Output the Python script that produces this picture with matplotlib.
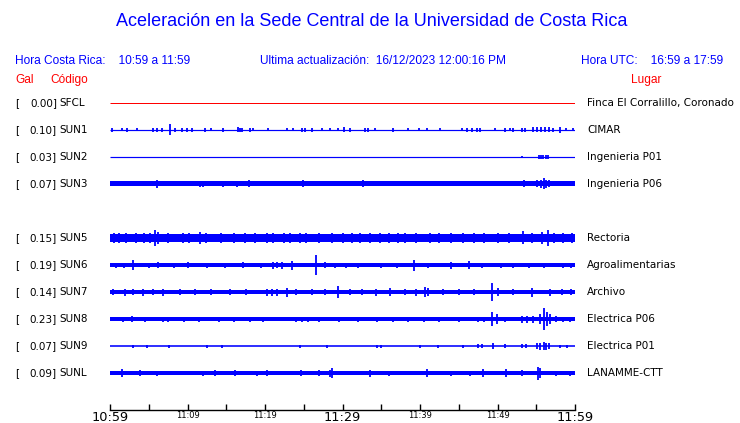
import matplotlib.pyplot as plt

BLUE = (0, 0, 1)
RED = (1, 0, 0)

# station rows (row index 4 is an empty slot)
codes = ['SFCL', 'SUN1', 'SUN2', 'SUN3', 'SUN5', 'SUN6', 'SUN7', 'SUN8', 'SUN9', 'SUNL']
rows = [0, 1, 2, 3, 5, 6, 7, 8, 9, 10]
gal = [0.00, 0.10, 0.03, 0.07, 0.15, 0.19, 0.14, 0.23, 0.07, 0.09]
places = ['Finca El Corralillo, Coronado', 'CIMAR', 'Ingenieria P01', 'Ingenieria P06',
          'Rectoria', 'Agroalimentarias', 'Archivo', 'Electrica P06', 'Electrica P01', 'LANAMME-CTT']

# base trace half-height (pixels) for each station
base = [0.5, 0.6, 0.6, 2.5, 3.8, 1.8, 2.3, 1.8, 0.8, 2.3]

# bursts/spikes: (minute after 10:59, half-height in pixels)
spikes = {
    'SFCL': [],
    'SUN1': [(0.3, 2), (1.5, 1.5), (2.2, 2), (3.5, 1.5), (5.5, 2), (6.1, 2), (6.7, 2), (7.7, 5.5),
             (8.4, 2), (9.3, 2), (9.9, 2), (10.6, 2), (12.3, 2), (13.0, 1.5), (14.6, 2), (16.5, 2.5),
             (16.8, 2), (17.0, 2), (18.1, 2), (18.5, 1.5), (20.4, 1.5), (22.8, 1.5), (23.6, 1.5),
             (24.8, 2), (25.2, 2), (26.1, 2), (27.4, 1.5), (28.4, 1.5), (29.4, 1.5), (30.2, 2.5),
             (31.0, 2), (32.9, 2), (33.3, 2), (34.2, 1.5), (36.5, 2), (38.5, 1.5), (39.9, 1.5),
             (40.9, 1.5), (42.6, 1.5), (45.4, 1.5), (46.1, 2), (46.7, 2), (47.4, 2), (47.7, 2),
             (49.7, 1.5), (51.0, 2), (51.6, 1.5), (52.0, 2), (53.2, 2), (53.5, 2), (54.6, 2.5),
             (55.1, 2.5), (55.6, 2.5), (56.1, 2.5), (56.6, 2.5), (57.2, 2), (58.1, 3), (58.8, 1.5),
             (59.7, 1.5)],
    'SUN2': [(53.2, 1), (55.3, 2), (55.6, 2), (55.9, 2), (56.2, 2), (56.5, 2)],
    'SUN3': [(6.1, 4), (11.6, 3), (12.0, 3), (14.6, 3), (16.4, 3), (17.9, 3.5), (24.9, 3.5),
             (32.6, 3.5), (53.4, 3.5), (55.1, 3.5), (55.6, 4), (56.0, 5.5), (56.3, 4), (56.6, 3.5)],
    'SUN5': [(0.5, 5), (1.2, 4.5), (2.0, 4.5), (3.3, 4.5), (4.4, 4.5), (5.2, 5), (5.8, 8), (6.2, 6),
             (7.5, 4.5), (9.4, 5), (10.2, 4.5), (11.6, 6), (12.4, 5), (14.3, 4.5), (16.0, 4.5),
             (17.4, 5), (18.7, 5), (20.2, 4.5), (21.0, 4.5), (22.5, 5), (23.2, 5), (24.5, 5),
             (25.3, 4.5), (27.0, 4.5), (28.6, 4.5), (30.0, 4.5), (31.2, 5), (32.3, 5.5), (33.6, 4.5),
             (34.8, 5), (36.0, 4.5), (37.2, 5), (38.1, 5), (39.5, 4.5), (41.3, 5), (42.5, 4.5),
             (44.0, 4.5), (45.5, 4.5), (47.0, 4.5), (48.3, 4.5), (50.0, 4.5), (51.5, 4.5),
             (53.3, 6.5), (54.5, 4.5), (55.7, 6), (56.5, 8), (57.3, 5), (58.5, 4.5), (59.6, 4.5)],
    'SUN6': [(0.8, 2.5), (1.8, 2.5), (3.0, 5), (5.0, 2.5), (6.2, 3), (8.3, 2.5), (10.1, 3),
             (12.5, 2.5), (14.8, 2.5), (17.2, 3), (19.5, 2.5), (21.0, 3.5), (21.5, 3), (22.2, 3.5),
             (23.5, 4.5), (26.6, 9.5), (27.8, 3), (29.0, 2.5), (30.5, 2.5), (32.0, 2.5), (35.0, 2.5),
             (37.0, 2.5), (39.2, 5.5), (41.0, 2.5), (44.0, 3.5), (46.3, 4), (48.0, 2.5), (50.5, 2.5),
             (52.0, 2.5), (54.0, 2.5), (56.0, 2.5), (58.5, 2.5), (59.5, 2.5)],
    'SUN7': [(0.4, 3), (1.9, 3.5), (3.0, 3), (4.3, 3.5), (5.5, 3), (6.8, 3.5), (9.0, 3),
             (11.0, 3), (13.0, 3), (15.5, 3), (17.5, 3), (20.3, 3.5), (20.9, 3.5), (21.5, 3.5),
             (22.8, 4.5), (24.0, 3), (26.0, 3), (27.8, 3), (29.4, 6), (31.0, 3), (32.5, 3),
             (34.3, 3.5), (36.1, 4), (38.0, 3), (39.5, 3.5), (40.6, 5), (41.0, 4), (43.0, 3),
             (45.0, 3), (47.0, 3), (49.3, 9), (50.0, 4), (52.0, 3), (54.5, 4.5), (56.8, 3.5),
             (58.3, 3), (59.5, 3)],
    'SUN8': [(1.7, 2.5), (2.8, 3), (4.5, 2.5), (6.8, 2.5), (7.5, 2.5), (9.5, 2.5), (11.5, 2.5),
             (14.0, 2.5), (16.0, 2.5), (18.0, 2.5), (19.8, 2.5), (24.0, 2.5), (24.8, 2.5),
             (25.6, 2.5), (27.0, 2.5), (29.5, 2.5), (32.0, 2.5), (34.5, 2.5), (36.5, 2.5),
             (38.5, 2.5), (40.5, 2.5), (42.5, 2.5), (45.0, 2.5), (47.5, 2.5), (48.2, 2.5),
             (49.3, 7), (49.9, 5), (51.0, 2.5), (53.2, 3.5), (53.8, 3.5), (54.6, 3.5), (55.5, 5),
             (56.0, 11), (56.4, 7), (56.8, 5), (57.5, 3), (58.5, 2.5), (59.4, 2.5)],
    'SUN9': [(3.0, 1.5), (4.8, 1.5), (7.6, 1.5), (12.5, 1.5), (14.5, 1.5), (24.5, 1.5),
             (28.0, 1.5), (34.5, 1.5), (35.0, 1.5), (40.0, 1.5), (42.3, 1.5), (45.5, 1.5),
             (47.5, 2), (48.0, 2), (49.4, 3), (51.0, 2), (53.2, 2), (53.7, 2), (55.1, 3),
             (55.5, 3.5), (56.0, 4), (56.3, 3.5), (56.6, 3), (58.0, 1.5), (59.0, 1.5)],
    'SUNL': [(1.5, 4), (3.9, 3), (6.0, 2.5), (12.0, 2.5), (13.5, 3), (16.1, 3), (19.0, 2.5),
             (20.3, 3), (24.7, 3), (27.0, 3), (28.4, 3.5), (28.6, 5), (33.5, 3.5), (36.0, 2.5),
             (40.9, 4), (44.0, 2.5), (46.5, 2.5), (48.1, 4), (51.1, 4), (53.2, 3), (55.2, 6.5),
             (55.5, 5), (57.5, 2.5), (59.4, 2.5)],
}

# time axis
tick_minutes = list(range(0, 61, 5))
label_minutes = [0, 10, 20, 30, 40, 50, 60]
label_text = ['10:59', '11:09', '11:19', '11:29', '11:39', '11:49', '11:59']
big_labels = ['10:59', '11:29', '11:59']

W, H = 740, 423
fig = plt.figure(figsize=(W / 100, H / 100), dpi=100)
ax = fig.add_axes([110 / W, (H - 410) / H, 465 / W, 320 / H])
ax.set_xlim(0, 60)
row_px = 27.0
ax.set_ylim((410 - 103) / row_px, (90 - 103) / row_px)

for code, r, b in zip(codes, rows, base):
    color = RED if code == 'SFCL' else BLUE
    if b <= 1:
        ax.hlines(r, 0, 60, color=color, lw=max(1.0, 2 * b) * 0.72)
    else:
        ax.fill_between([0, 60], r - b / row_px, r + b / row_px, color=color, lw=0)
    sp = spikes[code]
    if sp:
        ts = [s[0] for s in sp]
        hs = [s[1] / row_px for s in sp]
        ax.vlines(ts, [r - h for h in hs], [r + h for h in hs], color=color, lw=1.3)

for spine in ['top', 'left', 'right']:
    ax.spines[spine].set_visible(False)
ax.spines['bottom'].set_linewidth(1)
ax.set_yticks([])
ax.set_xticks(tick_minutes)
ax.set_xticklabels(['' for _ in tick_minutes])
ax.tick_params(axis='x', direction='in', length=4.5, width=1, colors='black')
for m, t in zip(label_minutes, label_text):
    ax.text(m, -0.004, t, transform=ax.get_xaxis_transform(), ha='center', va='top',
            fontsize=9.3 if t in big_labels else 6, family='DejaVu Sans')

# station labels
yt = ax.get_yaxis_transform()
for r, g, code, place in zip(rows, gal, codes, places):
    ax.text((15 - 110) / 465, r, '[', transform=yt, ha='left', va='center', fontsize=7.5)
    ax.text((57 - 110) / 465, r, '%.2f]' % g, transform=yt, ha='right', va='center', fontsize=7.5)
    ax.text((59 - 110) / 465, r, code, transform=yt, ha='left', va='center', fontsize=7.5)
    ax.text((587 - 110) / 465, r, place, transform=yt, ha='left', va='center', fontsize=7.5)

# header
hf = 'Liberation Sans'
fig.text(372 / W, 1 - 22 / H, 'Aceleración en la Sede Central de la Universidad de Costa Rica',
         ha='center', va='center', color=BLUE, fontsize=13, family=hf)
fig.text(15 / W, 1 - 61 / H, 'Hora Costa Rica:    10:59 a 11:59', ha='left', va='center',
         color=BLUE, fontsize=8.6, family=hf)
fig.text(260 / W, 1 - 61 / H, 'Ultima actualización:  16/12/2023 12:00:16 PM', ha='left',
         va='center', color=BLUE, fontsize=8.6, family=hf)
fig.text(723 / W, 1 - 61 / H, 'Hora UTC:    16:59 a 17:59', ha='right', va='center',
         color=BLUE, fontsize=8.6, family=hf)
fig.text(15 / W, 1 - 80 / H, 'Gal', ha='left', va='center', color=RED, fontsize=8.6, family=hf)
fig.text(50 / W, 1 - 80 / H, 'Código', ha='left', va='center', color=RED, fontsize=8.6, family=hf)
fig.text(646 / W, 1 - 80 / H, 'Lugar', ha='center', va='center', color=RED, fontsize=8.6, family=hf)

fig.savefig('out.png', dpi=100)
